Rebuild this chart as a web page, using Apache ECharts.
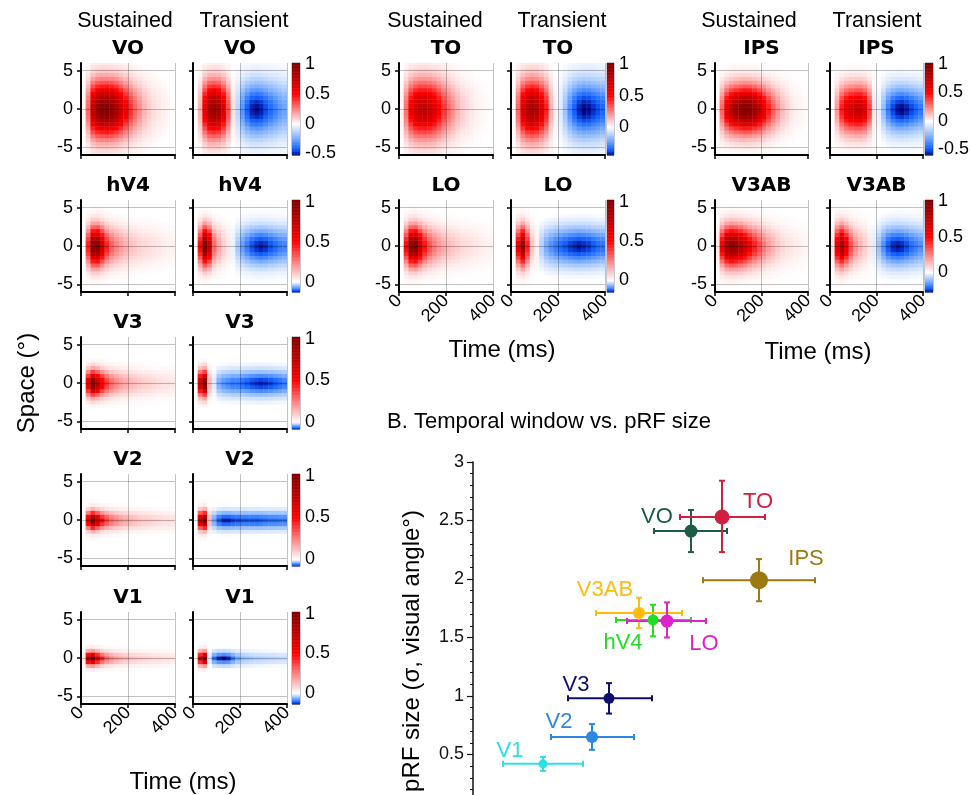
<!DOCTYPE html>
<html>
<head>
<meta charset="utf-8">
<title>Spatiotemporal pRFs</title>
<script src="https://cdn.jsdelivr.net/npm/echarts@6.0.0/dist/echarts.min.js"></script>
<style>
  html, body { margin: 0; padding: 0; background: #fff; }
  #chart { width: 970px; height: 795px; }
</style>
</head>
<body>
<div id="chart"></div>
<script>
// time bins (ms, start of each 20 ms bin) and distance from the pRF centre (deg)
var timeBins = [0, 20, 40, 60, 80, 100, 120, 140, 160, 180, 200, 220, 240, 260, 280, 300, 320, 340, 360, 380];
var spaceSteps = [0, 0.5, 1, 1.5, 2, 2.5, 3, 3.5, 4, 4.5, 5, 5.5, 6];

// spatial profiles (peak = 1)
var spaceVO = [1, 0.98, 0.92, 0.82, 0.71, 0.58, 0.46, 0.35, 0.25, 0.17, 0.11, 0.07, 0.04];
var spaceHV4 = [1, 0.95, 0.83, 0.66, 0.48, 0.32, 0.19, 0.10, 0.05, 0.02, 0.01, 0, 0];
var spaceV3 = [1, 0.90, 0.65, 0.38, 0.18, 0.07, 0.02, 0, 0, 0, 0, 0, 0];
var spaceV2 = [1, 0.80, 0.42, 0.15, 0.04, 0.01, 0, 0, 0, 0, 0, 0, 0];
var spaceV1 = [1, 0.60, 0.20, 0.04, 0, 0, 0, 0, 0, 0, 0, 0, 0];
var spaceTO = [1, 0.98, 0.92, 0.84, 0.73, 0.61, 0.49, 0.38, 0.28, 0.20, 0.14, 0.09, 0.06];
var spaceLO = [1, 0.95, 0.83, 0.66, 0.48, 0.32, 0.19, 0.10, 0.05, 0.02, 0.01, 0, 0];
var spaceIPS = [1, 0.97, 0.88, 0.76, 0.61, 0.46, 0.33, 0.22, 0.14, 0.08, 0.04, 0.02, 0.01];
var spaceV3AB = [1, 0.96, 0.84, 0.68, 0.50, 0.34, 0.21, 0.12, 0.06, 0.03, 0.01, 0, 0];

// temporal responses at the pRF centre, one value per time bin
var sustVO = [0.02, 0.30, 0.75, 0.92, 0.98, 1.00, 0.95, 0.85, 0.70, 0.55, 0.42, 0.30, 0.22, 0.15, 0.10, 0.07, 0.05, 0.03, 0.02, 0.01];
var tranVO = [0.00, 0.15, 0.60, 0.85, 0.90, 0.85, 0.65, 0.35, 0.05, -0.12, -0.30, -0.42, -0.50, -0.52, -0.50, -0.45, -0.40, -0.35, -0.30, -0.27];
var sustHV4 = [0.00, 0.45, 0.95, 1.00, 0.70, 0.45, 0.32, 0.25, 0.20, 0.16, 0.13, 0.11, 0.09, 0.08, 0.07, 0.06, 0.05, 0.04, 0.03, 0.03];
var tranHV4 = [0.00, 0.50, 1.00, 0.75, 0.30, 0.18, 0.10, 0.05, -0.01, -0.04, -0.07, -0.09, -0.11, -0.12, -0.125, -0.12, -0.11, -0.10, -0.09, -0.085];
var sustV3 = [0.00, 0.60, 1.00, 0.80, 0.55, 0.40, 0.30, 0.24, 0.20, 0.17, 0.15, 0.13, 0.11, 0.10, 0.09, 0.08, 0.07, 0.06, 0.06, 0.05];
var tranV3 = [0.00, 0.70, 1.00, 0.15, -0.01, -0.04, -0.05, -0.055, -0.06, -0.06, -0.065, -0.07, -0.075, -0.078, -0.08, -0.078, -0.075, -0.07, -0.065, -0.06];
var sustV2 = [0.00, 0.60, 1.00, 0.75, 0.50, 0.38, 0.30, 0.25, 0.21, 0.18, 0.16, 0.14, 0.12, 0.11, 0.10, 0.09, 0.08, 0.07, 0.07, 0.06];
var tranV2 = [0.00, 0.75, 1.00, 0.15, -0.04, -0.065, -0.075, -0.075, -0.07, -0.068, -0.066, -0.066, -0.066, -0.066, -0.064, -0.062, -0.06, -0.06, -0.058, -0.058];
var sustV1 = [0.05, 0.80, 1.00, 0.70, 0.45, 0.32, 0.25, 0.20, 0.17, 0.15, 0.13, 0.12, 0.11, 0.10, 0.09, 0.08, 0.08, 0.07, 0.07, 0.06];
var tranV1 = [0.00, 0.70, 1.00, -0.02, -0.10, -0.13, -0.14, -0.13, -0.10, -0.07, -0.055, -0.05, -0.045, -0.04, -0.038, -0.036, -0.034, -0.032, -0.03, -0.03];
var sustTO = [0.02, 0.28, 0.55, 0.68, 0.74, 0.75, 0.72, 0.64, 0.52, 0.40, 0.30, 0.22, 0.15, 0.10, 0.07, 0.05, 0.03, 0.02, 0.01, 0.00];
var tranTO = [0.00, 0.30, 0.65, 0.80, 0.85, 0.80, 0.65, 0.45, 0.15, 0.03, -0.05, -0.15, -0.27, -0.36, -0.42, -0.45, -0.44, -0.41, -0.38, -0.35];
var sustLO = [0.00, 0.50, 0.95, 1.00, 0.72, 0.48, 0.35, 0.27, 0.21, 0.17, 0.14, 0.12, 0.10, 0.08, 0.07, 0.06, 0.05, 0.04, 0.03, 0.03];
var tranLO = [0.00, 0.55, 0.90, 0.45, 0.12, 0.03, -0.04, -0.07, -0.09, -0.105, -0.115, -0.125, -0.135, -0.14, -0.145, -0.14, -0.135, -0.125, -0.115, -0.11];
var sustIPS = [0.02, 0.30, 0.60, 0.78, 0.88, 0.95, 1.00, 0.97, 0.88, 0.75, 0.60, 0.45, 0.32, 0.22, 0.14, 0.09, 0.05, 0.03, 0.02, 0.01];
var tranIPS = [0.00, 0.20, 0.45, 0.60, 0.68, 0.72, 0.72, 0.62, 0.38, 0.05, -0.05, -0.22, -0.40, -0.52, -0.58, -0.60, -0.57, -0.52, -0.47, -0.42];
var sustV3AB = [0.05, 0.55, 0.85, 0.95, 0.90, 0.80, 0.68, 0.55, 0.45, 0.35, 0.27, 0.20, 0.15, 0.11, 0.08, 0.06, 0.05, 0.04, 0.03, 0.02];
var tranV3AB = [0.05, 0.60, 0.85, 0.60, 0.35, 0.22, 0.15, 0.10, 0.05, -0.03, -0.10, -0.17, -0.23, -0.26, -0.27, -0.26, -0.24, -0.21, -0.19, -0.17];

// colour limits of each row's colour bar
var climVO = [-0.53, 1.02];
var climHV4 = [-0.13, 1.02];
var climV3 = [-0.085, 1.02];
var climV2 = [-0.08, 1.02];
var climV1 = [-0.14, 1.02];
var climTO = [-0.45, 1.02];
var climLO = [-0.15, 1.02];
var climIPS = [-0.6, 1.02];
var climV3AB = [-0.28, 1.02];
var colorbarTicks = [1, 0.5, 0, -0.5];

// B. temporal window vs pRF size
var areaNames = ['V1', 'V2', 'V3', 'hV4', 'V3AB', 'LO', 'VO', 'TO', 'IPS'];
var windowMs = [70, 119, 136, 180, 166, 194, 218, 249, 286];
var windowLo = [30, 78, 95, 143, 123, 154, 181, 207, 230];
var windowHi = [110, 161, 179, 218, 209, 233, 254, 292, 342];
var prfSize = [0.42, 0.65, 0.98, 1.65, 1.71, 1.64, 2.41, 2.53, 1.99];
var prfLo = [0.36, 0.54, 0.85, 1.51, 1.58, 1.50, 2.23, 2.23, 1.81];
var prfHi = [0.48, 0.76, 1.11, 1.78, 1.84, 1.80, 2.59, 2.84, 2.17];

// styles for panel B
var areaColors = ['#2fdede', '#2a88e2', '#0e0e6e', '#22dd22', '#ffbc0f', '#dc24c8', '#1a5c48', '#d02040', '#9b7a10'];
var dotSizes = [9, 12, 11, 11, 12, 13, 13, 15, 18];
var labelOffsets = [[-33, -13], [-33, -15], [-33, -13], [-30, 23], [-34, -23], [37, 23], [-34, -14], [36, -15], [47, -21]];

var TICK_FONT = 'Liberation Sans';
var TEXT_FONT = 'Liberation Sans';

var panelTable = {
  VO: {sust: sustVO, tran: tranVO, space: spaceVO, clim: climVO},
  hV4: {sust: sustHV4, tran: tranHV4, space: spaceHV4, clim: climHV4},
  V3: {sust: sustV3, tran: tranV3, space: spaceV3, clim: climV3},
  V2: {sust: sustV2, tran: tranV2, space: spaceV2, clim: climV2},
  V1: {sust: sustV1, tran: tranV1, space: spaceV1, clim: climV1},
  TO: {sust: sustTO, tran: tranTO, space: spaceTO, clim: climTO},
  LO: {sust: sustLO, tran: tranLO, space: spaceLO, clim: climLO},
  IPS: {sust: sustIPS, tran: tranIPS, space: spaceIPS, clim: climIPS},
  V3AB: {sust: sustV3AB, tran: tranV3AB, space: spaceV3AB, clim: climV3AB}
};

// panel layout (pixels)
var columns = [
  {sLeft: 81, tLeft: 193, cLeft: 292, w: 94, cw: 8, rows: [['VO', 63], ['hV4', 200], ['V3', 337], ['V2', 474], ['V1', 612]],
   heads: [125, 244], timeLabel: [183, 782]},
  {sLeft: 399, tLeft: 511, cLeft: 607, w: 94, cw: 7, rows: [['TO', 63], ['LO', 200]],
   heads: [435, 562], timeLabel: [502, 350]},
  {sLeft: 715, tLeft: 830, cLeft: 925, w: 93, cw: 8, rows: [['IPS', 63], ['V3AB', 200]],
   heads: [749, 877], timeLabel: [818, 352]}
];
var PANEL_H = 92;

var BIN = timeBins[1] - timeBins[0];
var ROW = spaceSteps[1] - spaceSteps[0];

function buildCells(temporal, spatial) {
  var rows = [];
  for (var k = spaceSteps.length - 1; k > 0; k--) rows.push([-spaceSteps[k], spatial[k]]);
  for (k = 0; k < spaceSteps.length; k++) rows.push([spaceSteps[k], spatial[k]]);
  var out = [];
  for (var i = 0; i < timeBins.length; i++) {
    for (var j = 0; j < rows.length; j++) {
      out.push([timeBins[i], rows[j][0], +(temporal[i] * rows[j][1]).toFixed(4)]);
    }
  }
  return out;
}

// red-white-blue map, positive and negative halves scaled separately
var POS = [[0, [255, 255, 255]], [0.5, [255, 0, 0]], [1, [128, 0, 0]]];
var NEG = [[0, [255, 255, 255]], [0.5, [110, 165, 255]], [0.8, [15, 95, 255]], [1, [0, 0, 130]]];
function ramp(stops, f) {
  f = Math.max(0, Math.min(1, f));
  for (var i = 1; i < stops.length; i++) {
    if (f <= stops[i][0]) {
      var a = stops[i - 1], b = stops[i];
      var u = (f - a[0]) / (b[0] - a[0]);
      var c = [0, 1, 2].map(function (k) { return Math.round(a[1][k] + (b[1][k] - a[1][k]) * u); });
      return 'rgb(' + c.join(',') + ')';
    }
  }
  return 'rgb(' + stops[stops.length - 1][1].join(',') + ')';
}
function rampColors(clim) {
  var n = 240, list = [], step = (clim[1] - clim[0]) / n;
  for (var i = 0; i <= n; i++) {
    var v = clim[0] + step * i;
    if (Math.abs(v) < step) list.push('rgb(255,255,255)');
    else list.push(v > 0 ? ramp(POS, v) : ramp(NEG, v / clim[0]));
  }
  return list;
}

function renderCell(params, api) {
  var t = api.value(0), s = api.value(1);
  var p0 = api.coord([t, s + ROW / 2]);
  var p1 = api.coord([t + BIN, s - ROW / 2]);
  var cs = params.coordSys;
  var shape = echarts.graphic.clipRectByRect(
    {x: p0[0], y: p0[1], width: p1[0] - p0[0] + 0.4, height: p1[1] - p0[1] + 0.4},
    {x: cs.x, y: cs.y, width: cs.width, height: cs.height});
  if (!shape) return null;
  return {type: 'rect', shape: shape, style: {fill: api.visual('color')}};
}

function renderBar(params, api) {
  var v = api.value(1), h = api.value(3);
  var p0 = api.coord([0, v + h / 2]);
  var p1 = api.coord([1, v - h / 2]);
  return {type: 'rect', shape: {x: p0[0], y: p0[1], width: p1[0] - p0[0], height: p1[1] - p0[1] + 0.5},
          style: {fill: api.visual('color')}};
}

var grids = [], xAxes = [], yAxes = [], series = [], visualMaps = [], texts = [];
var gridLine = {show: true, lineStyle: {color: 'rgba(0,0,0,0.24)', width: 1}};

function heatAxes(gi, showX, showY) {
  xAxes.push({
    gridIndex: gi, type: 'value', min: 0, max: 400, interval: 200, z: 5,
    axisLine: {show: true, onZero: false, lineStyle: {color: '#000', width: 2}},
    axisTick: {show: true, length: 4, lineStyle: {color: '#000', width: 1.5}},
    axisLabel: {show: showX, rotate: 45, margin: 6, fontFamily: TICK_FONT, fontSize: 18, color: '#000'},
    splitLine: gridLine
  });
  yAxes.push({
    gridIndex: gi, type: 'value', min: -6, max: 6, z: 5,
    axisLine: {show: true, onZero: false, lineStyle: {color: '#000', width: 2}},
    axisTick: {show: true, length: 4, customValues: [-5, 0, 5], lineStyle: {color: '#000', width: 1.5}},
    axisLabel: {show: showY, customValues: [-5, 0, 5], margin: 8, fontFamily: TICK_FONT, fontSize: 18, color: '#000'},
    splitLine: gridLine
  });
}

columns.forEach(function (col) {
  texts.push([col.heads[0], 21, 'Sustained', 0]);
  texts.push([col.heads[1], 21, 'Transient', 0]);
  texts.push([col.timeLabel[0], col.timeLabel[1], 'Time (ms)', 1]);
  col.rows.forEach(function (row, ri) {
    var name = row[0], top = row[1], p = panelTable[name];
    var isBottom = ri === col.rows.length - 1;
    var first = series.length;

    // sustained
    var gi = grids.length;
    grids.push({left: col.sLeft, top: top, width: col.w, height: PANEL_H, outerBoundsMode: 'none'});
    heatAxes(gi, isBottom, true);
    series.push({type: 'custom', xAxisIndex: gi, yAxisIndex: gi, renderItem: renderCell,
                 data: buildCells(p.sust, p.space), progressive: 0, silent: true, animation: false});

    // transient
    gi = grids.length;
    grids.push({left: col.tLeft, top: top, width: col.w, height: PANEL_H, outerBoundsMode: 'none'});
    heatAxes(gi, isBottom, false);
    series.push({type: 'custom', xAxisIndex: gi, yAxisIndex: gi, renderItem: renderCell,
                 data: buildCells(p.tran, p.space), progressive: 0, silent: true, animation: false});

    // colour bar
    gi = grids.length;
    grids.push({left: col.cLeft, top: top, width: col.cw, height: PANEL_H, show: true, outerBoundsMode: 'none',
                borderColor: 'rgba(20,20,60,0.6)', borderWidth: 0.8});
    xAxes.push({gridIndex: gi, type: 'value', min: 0, max: 1, show: false});
    yAxes.push({
      gridIndex: gi, type: 'value', position: 'right', min: p.clim[0], max: p.clim[1],
      axisLine: {show: false}, axisTick: {show: false}, splitLine: {show: false},
      axisLabel: {show: true, margin: 5, fontFamily: TICK_FONT, fontSize: 18, color: '#000',
                  customValues: colorbarTicks.filter(function (v) { return v >= p.clim[0] - 0.01; })}
    });
    var nb = 120, step = (p.clim[1] - p.clim[0]) / nb, bar = [];
    for (var i = 0; i < nb; i++) {
      var v = p.clim[0] + step * (i + 0.5);
      bar.push([0, v, v, step]);
    }
    series.push({type: 'custom', xAxisIndex: gi, yAxisIndex: gi, renderItem: renderBar,
                 data: bar, progressive: 0, silent: true, animation: false});

    visualMaps.push({type: 'continuous', show: false, dimension: 2, min: p.clim[0], max: p.clim[1],
                     seriesIndex: [first, first + 1, first + 2], inRange: {color: rampColors(p.clim)}});

    texts.push([col.sLeft + col.w / 2, top - 14, name, 2]);
    texts.push([col.tLeft + col.w / 2, top - 14, name, 2]);
  });
});

// panel B
var gB = grids.length;
grids.push({left: 473, top: 462, width: 500, height: 351, outerBoundsMode: 'none'});
xAxes.push({gridIndex: gB, type: 'value', min: 0, max: 500, show: false});
yAxes.push({
  gridIndex: gB, type: 'value', min: 0, max: 3, interval: 0.5,
  axisLine: {show: true, onZero: false, lineStyle: {color: '#111', width: 1.5}},
  axisTick: {show: true, length: 6, lineStyle: {color: '#111', width: 1.2}},
  minorTick: {show: true, splitNumber: 5, length: 3, lineStyle: {color: '#111', width: 1}},
  axisLabel: {margin: 9, fontFamily: TICK_FONT, fontSize: 18, color: '#111'},
  splitLine: {show: false}
});

var errData = areaNames.map(function (n, i) {
  return [windowMs[i], prfSize[i], windowLo[i], windowHi[i], prfLo[i], prfHi[i]];
});
series.push({
  type: 'custom', xAxisIndex: gB, yAxisIndex: gB, silent: true, animation: false, data: errData,
  renderItem: function (params, api) {
    var c = areaColors[params.dataIndex], cap = 3;
    var l = api.coord([api.value(2), api.value(1)]);
    var r = api.coord([api.value(3), api.value(1)]);
    var lo = api.coord([api.value(0), api.value(4)]);
    var hi = api.coord([api.value(0), api.value(5)]);
    function seg(x1, y1, x2, y2) {
      return {type: 'line', shape: {x1: x1, y1: y1, x2: x2, y2: y2}, style: {stroke: c, lineWidth: 2}};
    }
    return {type: 'group', children: [
      seg(l[0], l[1], r[0], r[1]),
      seg(l[0], l[1] - cap, l[0], l[1] + cap),
      seg(r[0], r[1] - cap, r[0], r[1] + cap),
      seg(lo[0], lo[1], hi[0], hi[1]),
      seg(lo[0] - cap, lo[1], lo[0] + cap, lo[1]),
      seg(hi[0] - cap, hi[1], hi[0] + cap, hi[1])
    ]};
  }
});
series.push({
  type: 'scatter', xAxisIndex: gB, yAxisIndex: gB, animation: false,
  data: areaNames.map(function (n, i) {
    return {
      name: n, value: [windowMs[i], prfSize[i]], symbolSize: dotSizes[i],
      itemStyle: {color: areaColors[i], opacity: 1},
      label: {show: true, position: 'inside', offset: labelOffsets[i], formatter: '{b}',
              color: areaColors[i], fontSize: 22, fontFamily: TEXT_FONT}
    };
  })
});

texts.push([27, 383, 'Space (°)', 3]);
texts.push([387, 422, 'B. Temporal window vs. pRF size', 4]);
texts.push([412, 651, 'pRF size (σ, visual angle°)', 3]);

var graphics = texts.map(function (t) {
  var kind = t[3];
  var font = kind === 2 ? 'bold 20px "DejaVu Sans"' :
             kind === 0 ? '21.5px "' + TEXT_FONT + '"' :
             kind === 4 ? '22px "' + TEXT_FONT + '"' : '24px "' + TEXT_FONT + '"';
  return {
    type: 'text', x: t[0], y: t[1], rotation: kind === 3 ? Math.PI / 2 : 0, silent: true,
    style: {text: t[2], font: font, fill: '#000', align: kind === 4 ? 'left' : 'center', verticalAlign: 'middle'}
  };
});

var chart = echarts.init(document.getElementById('chart'), null, {renderer: 'canvas'});
chart.setOption({
  animation: false,
  backgroundColor: '#fff',
  grid: grids,
  xAxis: xAxes,
  yAxis: yAxes,
  visualMap: visualMaps,
  series: series,
  graphic: graphics
});
</script>
</body>
</html>
